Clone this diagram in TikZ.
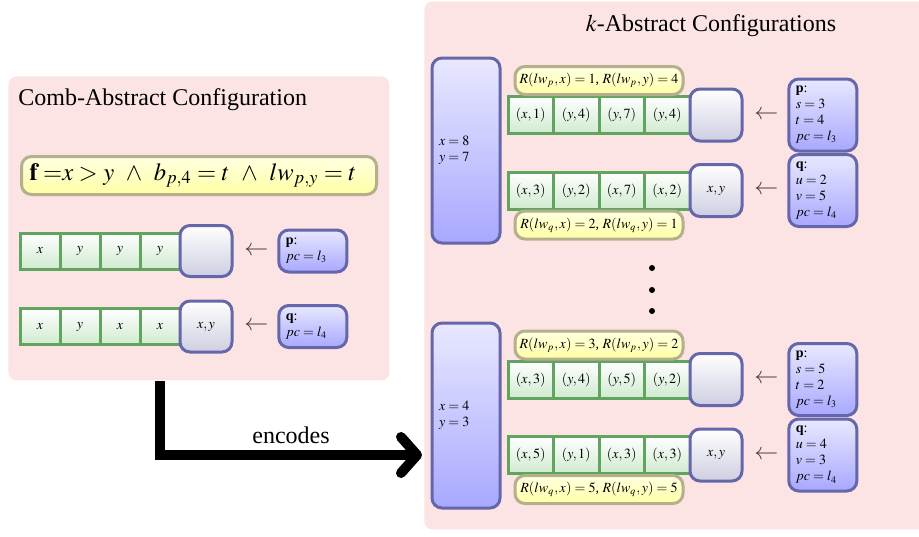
\documentclass[tikz,border=0pt]{standalone}
\usepackage{amsmath}
\usepackage{mathptmx}
\usepackage{fontspec}
\setmainfont{Liberation Serif}
\usepackage{tikz}
\usetikzlibrary{arrows.meta,positioning}
\definecolor{panelpink}{RGB}{253,228,228}
\definecolor{cellgreen}{RGB}{96,164,96}
\definecolor{cellbot}{RGB}{208,234,208}
\definecolor{procborder}{RGB}{102,102,170}
\definecolor{proctop}{RGB}{232,232,255}
\definecolor{procbot}{RGB}{168,168,255}
\definecolor{slotbot}{RGB}{206,206,226}
\definecolor{rborder}{RGB}{180,175,140}
\definecolor{rtop}{RGB}{255,255,225}
\definecolor{rbot}{RGB}{255,255,165}
\definecolor{arrowgray}{RGB}{80,60,60}

\begin{document}
\begin{tikzpicture}[x=0.5pt, y=-0.5pt,
    panel/.style={fill=panelpink, rounded corners=4pt, inner sep=0pt, anchor=north west},
    formula/.style={draw=rborder, line width=1.5pt, rounded corners=5pt, top color=rtop,
        bottom color=rbot, minimum width=177.5pt, minimum height=19pt,
        font=\fontsize{12.3}{14}\selectfont},
    cell/.style={draw=cellgreen, line width=1.5pt, top color=white, bottom color=cellbot,
        minimum width=20pt, minimum height=18pt, inner sep=0pt, outer sep=0pt, font=\scriptsize},
    wcell/.style={cell, minimum width=22.75pt, minimum height=18.5pt},
    slot/.style={draw=procborder, line width=1.5pt, rounded corners=5pt, top color=white,
        bottom color=slotbot, minimum width=26pt, minimum height=25.5pt, inner sep=0pt,
        outer sep=0pt, font=\scriptsize},
    proc/.style={draw=procborder, line width=1.5pt, rounded corners=5pt, top color=proctop,
        bottom color=procbot, text width=27pt, inner xsep=3.5pt, inner ysep=2pt, align=left,
        outer sep=0pt, font=\scriptsize},
    glob/.style={proc, minimum height=92.5pt, anchor=north west},
    rlabel/.style={draw=rborder, line width=1.5pt, rounded corners=5pt, top color=rtop,
        bottom color=rbot, minimum width=84pt, minimum height=14pt, inner sep=0pt,
        outer sep=0pt, font=\scriptsize},
    larr/.style={inner sep=0pt, text=arrowgray, font=\fontsize{12}{12}\selectfont},
    encarr/.style={line width=5pt, -{Straight Barb[length=8pt,width=18pt,round]}},
    dot/.style={circle, fill=black, inner sep=0pt, minimum size=3pt}
]
\useasboundingbox (0,0) rectangle (919,536);

% panels
\node[panel, minimum width=190.5pt, minimum height=152pt] (lpanel) at (8,76) {};
\node[panel, minimum width=253pt, minimum height=264pt] (rpanel) at (424,1) {};
\node[anchor=base west, inner sep=0pt, font=\large] (ltitle) at (18,105) {Comb-Abstract Configuration};
\node[anchor=base, inner sep=0pt, font=\large] (rtitle) at (711,31) {$k$-Abstract Configurations};

% comb-abstract side
\node[formula, text width=169.5pt, inner xsep=4pt, align=left] (fbox) at (199,175.5)
    {$\mathbf{f}\;{=}x > y \ \wedge\ b_{p,4} = t \ \wedge\ lw_{p,y} = t$};

\node[cell, anchor=west] (a1) at (20,251) {$x$};
\node[cell, right=0pt of a1] (a2) {$y$};
\node[cell, right=0pt of a2] (a3) {$y$};
\node[cell, right=0pt of a3] (a4) {$y$};
\node[slot, right=0pt of a4] (aslot) {};
\node[larr, right=6pt of aslot] (aarr) {$\leftarrow$};
\node[proc, minimum height=21pt, right=5pt of aarr] (aproc) {\textbf{p}:\\$pc=l_3$};

\node[cell, anchor=west] (b1) at (20,326.5) {$x$};
\node[cell, right=0pt of b1] (b2) {$y$};
\node[cell, right=0pt of b2] (b3) {$x$};
\node[cell, right=0pt of b3] (b4) {$x$};
\node[slot, right=0pt of b4] (bslot) {$x,y$};
\node[larr, right=6pt of bslot] (barr) {$\leftarrow$};
\node[proc, minimum height=21pt, right=5pt of barr] (bproc) {\textbf{q}:\\$pc=l_4$};

% first k-abstract configuration
\node[glob] (gA) at (432,58) {$x=8$\\$y=7$};

\node[wcell, anchor=west] (c1) at (508,115) {$(x,1)$};
\node[wcell, right=0pt of c1] (c2) {$(y,4)$};
\node[wcell, right=0pt of c2] (c3) {$(y,7)$};
\node[wcell, right=0pt of c3] (c4) {$(y,4)$};
\node[slot, minimum height=26pt, right=0pt of c4] (cslot) {};
\node[larr, right=6pt of cslot] (carr) {$\leftarrow$};
\node[proc, minimum height=36pt, right=5pt of carr] (cproc) {\textbf{p}:\\$s=3$\\$t=4$\\$pc=l_3$};
\node[rlabel, above=1pt of c2.north east] (rA1) {$R(lw_p,x)=1$, $R(lw_p,y)=4$};

\node[wcell, anchor=west] (d1) at (508,190.5) {$(x,3)$};
\node[wcell, right=0pt of d1] (d2) {$(y,2)$};
\node[wcell, right=0pt of d2] (d3) {$(x,7)$};
\node[wcell, right=0pt of d3] (d4) {$(x,2)$};
\node[slot, minimum height=26pt, right=0pt of d4] (dslot) {$x,y$};
\node[larr, right=6pt of dslot] (darr) {$\leftarrow$};
\node[proc, minimum height=36pt, right=5pt of darr] (dproc) {\textbf{q}:\\$u=2$\\$v=5$\\$pc=l_4$};
\node[rlabel, below=1pt of d2.south east] (rA2) {$R(lw_q,x)=2$, $R(lw_q,y)=1$};

\node[dot] (dot1) at (652,268) {};
\node[dot] (dot2) at (652,290) {};
\node[dot] (dot3) at (652,311) {};

% second k-abstract configuration
\node[glob] (gB) at (432,323) {$x=4$\\$y=3$};

\node[wcell, anchor=west] (e1) at (508,379.5) {$(x,3)$};
\node[wcell, right=0pt of e1] (e2) {$(y,4)$};
\node[wcell, right=0pt of e2] (e3) {$(y,5)$};
\node[wcell, right=0pt of e3] (e4) {$(y,2)$};
\node[slot, minimum height=26pt, right=0pt of e4] (eslot) {};
\node[larr, right=6pt of eslot] (earr) {$\leftarrow$};
\node[proc, minimum height=36pt, right=5pt of earr] (eproc) {\textbf{p}:\\$s=5$\\$t=2$\\$pc=l_3$};
\node[rlabel, above=1pt of e2.north east] (rB1) {$R(lw_p,x)=3$, $R(lw_p,y)=2$};

\node[wcell, anchor=west] (f1) at (508,455) {$(x,5)$};
\node[wcell, right=0pt of f1] (f2) {$(y,1)$};
\node[wcell, right=0pt of f2] (f3) {$(x,3)$};
\node[wcell, right=0pt of f3] (f4) {$(x,3)$};
\node[slot, minimum height=26pt, right=0pt of f4] (fslot) {$x,y$};
\node[larr, right=6pt of fslot] (farr) {$\leftarrow$};
\node[proc, minimum height=36pt, right=5pt of farr] (fproc) {\textbf{q}:\\$u=4$\\$v=3$\\$pc=l_4$};
\node[rlabel, below=1pt of f2.south east] (rB2) {$R(lw_q,x)=5$, $R(lw_q,y)=5$};

% encoding arrow
\coordinate (encend) at ([xshift=-5pt]gB.west |- f1);
\draw[encarr] (a4 |- lpanel.south) |- node[above, pos=0.75, font=\large] {encodes} (encend);
\end{tikzpicture}
\end{document}
